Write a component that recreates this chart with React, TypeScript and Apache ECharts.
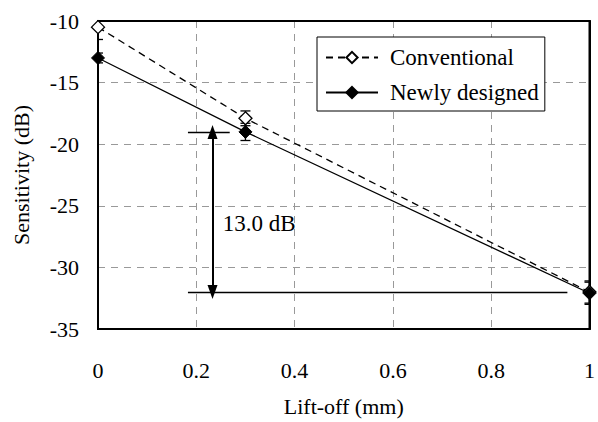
import React, { useEffect, useRef } from "react";
import * as echarts from "echarts";

const liftOff = [0, 0.3, 1];
const conventional = [-10.5, -17.9, -32.0];
const newlyDesigned = [-13.0, -19.0, -32.1];
const conventionalErr = [1.0, 0.6, 0.9];
const newlyErr = [0.4, 0.7, 0.9];

const annotTopY = -19.0;
const annotBottomY = -32.0;
const annotTopX = [0.183, 0.268];
const annotBottomX = [0.183, 0.955];
const arrowX = 0.233;
const annotText = "13.0 dB";
const annotTextPos = [0.254, -26.4];

const FONT = "'Liberation Serif', 'DejaVu Serif', serif";

function errorSeries(name: string, vals: number[], errs: number[]) {
  const data = liftOff.map((x, i) => [x, vals[i] - errs[i], vals[i] + errs[i]]);
  return {
    name: name + "-err",
    type: "custom",
    clip: true,
    z: 1,
    data,
    renderItem: (params: any, api: any) => {
      const x = api.value(0);
      const lo = api.coord([x, api.value(1)]);
      const hi = api.coord([x, api.value(2)]);
      const w = 5;
      const style = { stroke: "#000", lineWidth: 1.3, fill: "none" };
      return {
        type: "group",
        children: [
          { type: "line", shape: { x1: lo[0], y1: lo[1], x2: hi[0], y2: hi[1] }, style },
          { type: "line", shape: { x1: lo[0] - w, y1: lo[1], x2: lo[0] + w, y2: lo[1] }, style },
          { type: "line", shape: { x1: hi[0] - w, y1: hi[1], x2: hi[0] + w, y2: hi[1] }, style },
        ],
      };
    },
  };
}

export default function App() {
  const ref = useRef<HTMLDivElement>(null);
  useEffect(() => {
    document.body.style.margin = "0";
    if (!ref.current) return;
    const chart = echarts.init(ref.current, undefined, { renderer: "svg" });
    const lbl = { fontFamily: FONT, fontSize: 22, color: "#000" };
    chart.setOption({
      animation: false,
      textStyle: { fontFamily: FONT, color: "#000" },
      grid: {
        left: 98,
        right: 4,
        top: 21,
        bottom: 89,
        show: true,
        borderColor: "#000",
        borderWidth: 2,
        backgroundColor: "transparent",
        z: 0,
      },
      legend: {
        left: 317,
        top: 37,
        orient: "vertical",
        data: ["Conventional", "Newly designed"],
        backgroundColor: "#fff",
        borderColor: "#000",
        borderWidth: 1,
        borderRadius: 0,
        padding: [8, 6, 6, 8],
        itemWidth: 52,
        itemHeight: 14,
        itemGap: 10,
        textStyle: { fontFamily: FONT, fontSize: 23, color: "#000", padding: [0, 0, 0, 7], lineHeight: 25 },
        z: 10,
      },
      xAxis: [
        {
          type: "value",
          min: 0,
          max: 1,
          interval: 0.2,
          name: "Lift-off (mm)",
          nameLocation: "middle",
          nameGap: 66,
          nameTextStyle: lbl,
          axisLine: { show: true, onZero: false, lineStyle: { color: "#000", width: 2 } },
          axisTick: { show: false },
          axisLabel: { ...lbl, margin: 30 },
          splitLine: {
            show: true,
            showMinLine: false,
            showMaxLine: false,
            lineStyle: { color: "#999", type: [7, 6], width: 1 },
          },
        },
        {
          type: "value",
          position: "top",
          min: 0,
          max: 1,
          interval: 0.2,
          axisLine: { show: true, onZero: false, lineStyle: { color: "#000", width: 2 } },
          axisTick: { show: false },
          axisLabel: { show: false },
          splitLine: { show: false },
        },
      ],
      yAxis: [
        {
          type: "value",
          min: -35,
          max: -10,
          interval: 5,
          name: "Sensitivity (dB)",
          nameLocation: "middle",
          nameGap: 66,
          nameTextStyle: lbl,
          axisLine: { show: true, onZero: false, lineStyle: { color: "#000", width: 2 } },
          axisTick: { show: false },
          axisLabel: { ...lbl, margin: 19 },
          splitLine: {
            show: true,
            showMinLine: false,
            showMaxLine: false,
            lineStyle: { color: "#999", type: [7, 6], width: 1 },
          },
        },
        {
          type: "value",
          position: "right",
          min: -35,
          max: -10,
          interval: 5,
          axisLine: { show: true, onZero: false, lineStyle: { color: "#000", width: 2 } },
          axisTick: { show: false },
          axisLabel: { show: false },
          splitLine: { show: false },
        },
      ],
      series: [
        errorSeries("Conventional", conventional, conventionalErr),
        errorSeries("Newly designed", newlyDesigned, newlyErr),
        {
          name: "Conventional",
          type: "line",
          z: 3,
          data: liftOff.map((x, i) => [x, conventional[i]]),
          symbol: "diamond",
          symbolSize: 13,
          clip: false,
          lineStyle: { color: "#000", width: 1.3, type: [7, 5] },
          itemStyle: { color: "#fff", borderColor: "#000", borderWidth: 1.3 },
        },
        {
          name: "Newly designed",
          type: "line",
          z: 4,
          data: liftOff.map((x, i) => [x, newlyDesigned[i]]),
          symbol: "diamond",
          symbolSize: 13,
          clip: false,
          lineStyle: { color: "#000", width: 1.3, type: "solid" },
          itemStyle: { color: "#000", borderColor: "#000", borderWidth: 1 },
        },
        {
          name: "annotation",
          type: "scatter",
          z: 5,
          data: [[annotTextPos[0], annotTextPos[1]]],
          symbolSize: 0,
          itemStyle: { color: "#000", opacity: 1 },
          label: {
            show: true,
            position: "right",
            distance: 0,
            formatter: annotText,
            fontFamily: FONT,
            fontSize: 23,
            color: "#000",
          },
          markLine: {
            silent: true,
            animation: false,
            label: { show: false },
            symbol: ["none", "none"],
            lineStyle: { color: "#000", width: 1.3, type: "solid" },
            data: [
              [
                { coord: [annotTopX[0], annotTopY], symbol: "none" },
                { coord: [annotTopX[1], annotTopY], symbol: "none" },
              ],
              [
                { coord: [annotBottomX[0], annotBottomY], symbol: "none" },
                { coord: [annotBottomX[1], annotBottomY], symbol: "none" },
              ],
              [
                { coord: [arrowX, annotTopY], symbol: "triangle", symbolSize: [10, 14], symbolRotate: 0 },
                {
                  coord: [arrowX, annotBottomY],
                  symbol: "triangle",
                  symbolSize: [10, 14],
                  symbolRotate: 180,
                  lineStyle: { width: 2 },
                },
              ],
            ],
          },
        },
      ],
    });
    return () => chart.dispose();
  }, []);
  return <div ref={ref} style={{ width: 598, height: 422 }} />;
}
